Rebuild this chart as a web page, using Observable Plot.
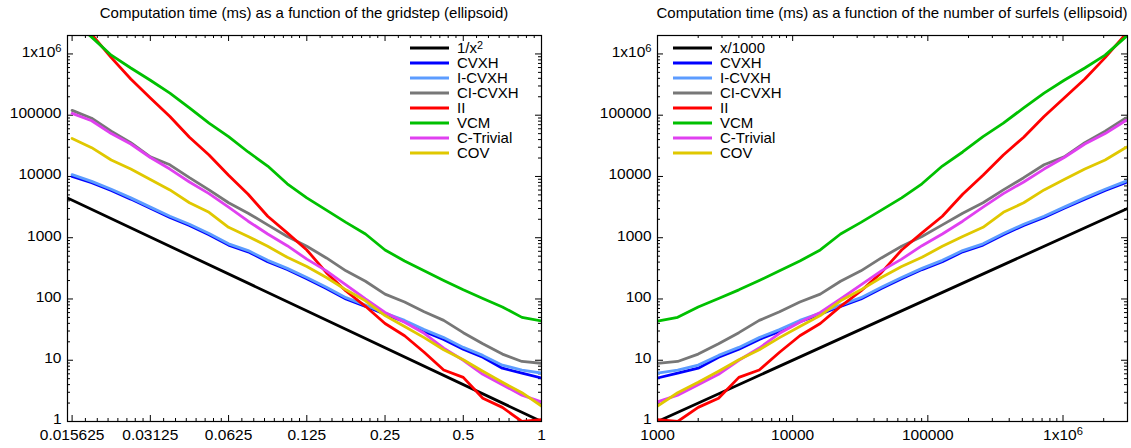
<!DOCTYPE html>
<html><head><meta charset="utf-8">
<script src="https://cdn.jsdelivr.net/npm/d3@7"></script>
<script src="https://cdn.jsdelivr.net/npm/@observablehq/plot@0.6"></script>
<style>
html,body{margin:0;padding:0;background:#fff;}
#wrap{position:relative;width:1131px;height:448px;overflow:hidden;font-family:"Liberation Sans",Arial,sans-serif;}
#left,#right{position:absolute;top:0;}
#left{left:0;width:565px;} #right{left:565px;width:566px;}
</style></head><body>
<div id="wrap"><div id="left"></div><div id="right"></div></div>
<script>
// ---- data ----
const gridsteps = [0.015625, 0.01858, 0.0221, 0.02628, 0.03125, 0.03716, 0.04419, 0.05256, 0.0625, 0.07433, 0.08839, 0.1051, 0.125, 0.1487, 0.1768, 0.2102, 0.25, 0.2973, 0.3536, 0.4204, 0.5, 0.5946, 0.7071, 0.8409, 1];
const surfels = [4100000, 2900000, 2050000, 1450000, 1020000, 724000, 512000, 362000, 256000, 181000, 128000, 90500, 64000, 45300, 32000, 22600, 16000, 11300, 8000, 5660, 4000, 2830, 2000, 1410, 1000];

const seriesNames = ["CVXH", "I-CVXH", "CI-CVXH", "II", "VCM", "C-Trivial", "COV"];
const seriesColors = ["#0000ff", "#5c9cff", "#777777", "#ff0000", "#00c000", "#e040f0", "#e0c800"];

const cvxh     = [10000, 7940, 5890, 4270, 3020, 2140, 1590, 1120, 759, 589, 407, 302, 214, 148, 100, 75.9, 56.2, 42.7, 29.5, 21.9, 15.1, 11.2, 7.41, 6.17, 5.13];
const icvxh    = [10700, 8320, 6170, 4470, 3160, 2240, 1660, 1175, 794, 617, 427, 316, 224, 155, 105, 79.4, 58.9, 44.7, 31.6, 23.4, 16.2, 12.0, 8.32, 6.92, 6.17];
const cicvxh   = [120000, 89100, 55000, 35500, 20900, 15500, 9550, 6030, 3720, 2510, 1620, 1050, 724, 468, 288, 195, 120, 89.1, 61.7, 44.7, 28.2, 18.6, 12.6, 9.55, 8.91];
const ii       = [5010000, 2090000, 871000, 389000, 191000, 95500, 43700, 22400, 10500, 5130, 2240, 1200, 631, 269, 135, 75.9, 39.8, 25.1, 13.5, 6.92, 5.25, 2.40, 1.70, 1.0, 1.07];
const vcm      = [3550000, 1880000, 955000, 589000, 372000, 229000, 132000, 74100, 44700, 25100, 14800, 7590, 4470, 2820, 1780, 1150, 631, 417, 288, 200, 141, 102, 74.1, 50.1, 43.7];
const ctrivial = [107000, 81300, 50100, 33900, 20400, 13200, 8130, 5250, 3160, 1860, 1150, 741, 447, 288, 170, 100, 60.3, 41.7, 27.5, 15.8, 10.0, 5.89, 3.98, 2.69, 2.09];
const cov      = [41700, 29500, 18600, 13200, 8910, 6030, 3720, 2600, 1480, 1050, 724, 479, 339, 224, 141, 93.3, 53.7, 35.5, 23.4, 14.8, 10.2, 6.61, 4.37, 2.95, 1.78];
const seriesValues = [cvxh, icvxh, cicvxh, ii, vcm, ctrivial, cov];

// reference curves
const refLeftX = [0.015, 1], refLeftY = [4444, 1];          // 1/x^2
const refRightX = [1000, 3000000], refRightY = [1, 3000];   // x/1000

// axes
const yTicks = [1, 10, 100, 1000, 10000, 100000, 1000000];
const yTickLabels = ["1", "10", "100", "1000", "10000", "100000", "1x10^6"];
const xTicksLeft = [0.015625, 0.03125, 0.0625, 0.125, 0.25, 0.5, 1];
const xTickLabelsLeft = ["0.015625", "0.03125", "0.0625", "0.125", "0.25", "0.5", "1"];
const xTicksRight = [1000, 10000, 100000, 1000000];
const xTickLabelsRight = ["1000", "10000", "100000", "1x10^6"];

// ---- helpers ----
const H = 448, MT = 35, MB = 27;
const FONT = "'Liberation Sans', Arial, Helvetica, sans-serif";
function minor10(lo, hi) {
  const out = [];
  for (let e = -3; e <= 7; e++) for (let m = 2; m <= 9; m++) { const v = m * Math.pow(10, e); if (v > lo && v < hi) out.push(v); }
  return out;
}
function minor2(lo, hi) {
  const out = [];
  for (let e = -8; e <= 1; e++) for (let j = 1; j <= 7; j++) { const v = Math.pow(2, e) * (1 + j / 8); if (v > lo && v < hi) out.push(v); }
  return out;
}
function setSup(sel, str) {
  const parts = str.split("^");
  sel.text(parts[0]);
  if (parts.length > 1) sel.append("tspan").attr("dy", "-0.45em").attr("font-size", "0.72em").text(parts[1]);
}

function panel(cfg) {
  const innerW = cfg.width - cfg.ml - cfg.mr, innerH = H - MT - MB;
  const yMinor = minor10(1, 2e6);
  const marks = [
    Plot.tickY(yTicks, {y: d => d, insetRight: innerW - 6, stroke: "black"}),
    Plot.tickY(yTicks, {y: d => d, insetLeft: innerW - 6, stroke: "black"}),
    Plot.tickY(yMinor, {y: d => d, insetRight: innerW - 3, stroke: "black"}),
    Plot.tickY(yMinor, {y: d => d, insetLeft: innerW - 3, stroke: "black"}),
    Plot.tickX(cfg.xTicks, {x: d => d, insetTop: innerH - 6, stroke: "black"}),
    Plot.tickX(cfg.xTicks, {x: d => d, insetBottom: innerH - 6, stroke: "black"}),
    Plot.tickX(cfg.xMinor, {x: d => d, insetTop: innerH - 3, stroke: "black"}),
    Plot.tickX(cfg.xMinor, {x: d => d, insetBottom: innerH - 3, stroke: "black"}),
    Plot.text(yTicks, {y: d => d, text: (d, i) => yTickLabels[i], frameAnchor: "left", dx: -6, dy: -2, textAnchor: "end", fill: "black", fontSize: 15.5}),
    Plot.text(cfg.xTicks, {x: d => d, text: (d, i) => cfg.xLabels[i], frameAnchor: "bottom", dy: 18.5, fill: "black", fontSize: 15.5}),
    Plot.line(cfg.refX.map((x, i) => ({x, y: cfg.refY[i]})), {x: "x", y: "y", stroke: "black", strokeWidth: 2.8, clip: true})
  ];
  seriesValues.forEach((vals, s) => {
    marks.push(Plot.line(vals.map((v, k) => ({x: cfg.xs[k], y: v})), {x: "x", y: "y", stroke: seriesColors[s], strokeWidth: 2.8, clip: true}));
  });
  marks.push(Plot.frame({stroke: "black", strokeWidth: 1.2}));
  const svg = Plot.plot({
    width: cfg.width, height: H,
    marginLeft: cfg.ml, marginRight: cfg.mr, marginTop: MT, marginBottom: MB,
    style: {fontFamily: FONT, fontSize: "15px", background: "white", color: "black"},
    x: {type: "log", domain: cfg.xDomain, axis: null},
    y: {type: "log", domain: [1, 2000000], axis: null},
    marks
  });
  const s = d3.select(svg);
  s.selectAll("text").each(function () {
    const t = this.textContent;
    if (t.includes("^")) setSup(d3.select(this), t);
  });
  s.append("text").attr("x", cfg.ml + innerW / 2).attr("y", 18).attr("text-anchor", "middle")
    .attr("font-family", FONT).attr("font-size", 15).attr("fill", "black").text(cfg.title);
  const names = [cfg.refName, ...seriesNames];
  const colors = ["black", ...seriesColors];
  const lg = s.append("g").attr("text-anchor", "start");
  names.forEach((name, i) => {
    const y = 48 + 15 * i;
    lg.append("line").attr("x1", cfg.legX).attr("x2", cfg.legX + 39).attr("y1", y).attr("y2", y)
      .attr("stroke", colors[i]).attr("stroke-width", 3);
    const t = lg.append("text").attr("x", cfg.legX + 47).attr("y", y).attr("dy", "0.36em")
      .attr("text-anchor", "start").attr("font-family", FONT).attr("font-size", 15).attr("fill", "black");
    setSup(t, name);
  });
  document.getElementById(cfg.el).appendChild(svg);
}

panel({
  el: "left", width: 565, ml: 67, mr: 24,
  xDomain: [0.015, 1], xs: gridsteps, refX: refLeftX, refY: refLeftY,
  xTicks: xTicksLeft, xLabels: xTickLabelsLeft, xMinor: minor2(0.015, 1),
  title: "Computation time (ms) as a function of the gridstep (ellipsoid)",
  refName: "1/x^2", legX: 410
});
panel({
  el: "right", width: 566, ml: 92, mr: 4,
  xDomain: [1000, 3000000], xs: surfels, refX: refRightX, refY: refRightY,
  xTicks: xTicksRight, xLabels: xTickLabelsRight, xMinor: minor10(1000, 3000000),
  title: "Computation time (ms) as a function of the number of surfels (ellipsoid)",
  refName: "x/1000", legX: 108
});
</script>
</body></html>
